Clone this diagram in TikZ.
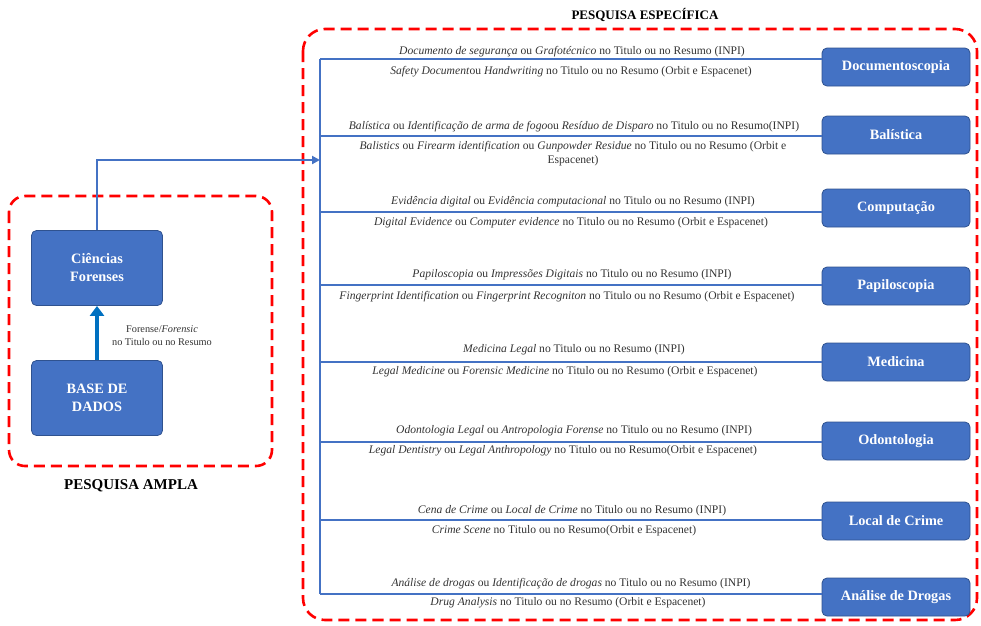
\documentclass[tikz,border=0pt]{standalone}
\usepackage{fontspec}
\setmainfont{Liberation Serif}
\usetikzlibrary{arrows.meta}
\definecolor{bfill}{HTML}{4472C4}
\definecolor{bdraw}{HTML}{2F528F}
\definecolor{lblue}{HTML}{4472C4}
\definecolor{ablue}{HTML}{0070C0}
\definecolor{dred}{HTML}{FF0000}
\definecolor{tgray}{HTML}{333333}
\tikzset{
  catbox/.style={draw=bdraw, fill=bfill, rounded corners=5pt, line width=0.8pt,
    minimum width=148pt, minimum height=38pt, text=white, font=\fontsize{14.3}{16}\selectfont\bfseries, align=center, inner sep=2pt},
  bigbox/.style={catbox, minimum width=131pt, minimum height=75pt, font=\fontsize{14.3}{18}\selectfont\bfseries},
  redbox/.style={draw=dred, line width=2.6pt, dash pattern=on 11pt off 6pt, rounded corners=16pt},
  link/.style={draw=lblue, line width=2.4pt},
  qtext/.style={text=tgray, font=\fontsize{11.6}{14}\selectfont, inner sep=0pt, align=center},
  ttl/.style={font=\fontsize{13}{15}\selectfont\bfseries, inner sep=0pt}
}
\begin{document}
\begin{tikzpicture}[x=1pt,y=-1pt]
\useasboundingbox (0,0) rectangle (981,625);
% dashed containers
\draw[redbox] (9,196) rectangle (272,466);
\draw[redbox, rounded corners=22pt] (303,29) rectangle (977,620);
\node[ttl, font=\fontsize{15}{17}\selectfont\bfseries] (tA) at (131,486) {PESQUISA AMPLA};
\node[ttl] (tE) at (645,15) {PESQUISA ESPECÍFICA};
% left boxes
\node[bigbox] (cf) at (97,268) {Ciências\\Forenses};
\node[bigbox] (bd) at (97,398) {BASE DE\\DADOS};
\draw[draw=ablue, line width=4pt, -{Triangle[length=10pt,width=14pt]}] (bd.north) -- (cf.south);
\node[qtext, font=\fontsize{10.3}{13}\selectfont] (fl) at (162,336) {Forense/\textit{Forensic}\\no Titulo ou no Resumo};
% right boxes
\node[catbox] (b1) at (896,67) {Documentoscopia};
\node[catbox] (b2) at (896,135) {Balística};
\node[catbox] (b3) at (896,208) {Computação};
\node[catbox] (b4) at (896,286) {Papiloscopia};
\node[catbox] (b5) at (896,362) {Medicina};
\node[catbox] (b6) at (896,441) {Odontologia};
\node[catbox] (b7) at (896,521) {Local de Crime};
\node[catbox] (b8) at (896,597) {Análise de Drogas};
% trunk
\coordinate (t1) at (320,59);
\coordinate (t2) at (320,136);
\coordinate (t3) at (320,212);
\coordinate (t4) at (320,285);
\coordinate (t5) at (320,362);
\coordinate (t6) at (320,442);
\coordinate (t7) at (320,520);
\coordinate (t8) at (320,594);
\coordinate (ent) at (320,160);
\coordinate (bend) at (97,160);
\draw[link] (t1) -- (t8);
\draw[link] (t1) -- (t1 -| b1.west);
\draw[link] (t2) -- (t2 -| b2.west);
\draw[link] (t3) -- (t3 -| b3.west);
\draw[link] (t4) -- (t4 -| b4.west);
\draw[link] (t5) -- (t5 -| b5.west);
\draw[link] (t6) -- (t6 -| b6.west);
\draw[link] (t7) -- (t7 -| b7.west);
\draw[link] (t8) -- (t8 -| b8.west);
\draw[link, line width=2.2pt, -{Triangle[length=8pt,width=8pt]}] (cf.north) -- (bend) -- (ent);
% query texts
\node[qtext] (q1a) at (572,52) {\textit{Documento de segurança} ou \textit{Grafotécnico} no Titulo ou no Resumo (INPI)};
\node[qtext] (q1b) at (571,72) {\textit{Safety Document}ou \textit{Handwriting} no Titulo ou no Resumo (Orbit e Espacenet)};
\node[qtext] (q2a) at (574,127) {\textit{Balística} ou \textit{Identificação de arma de fogo}ou \textit{Resíduo de Disparo} no Titulo ou no Resumo(INPI)};
\node[qtext] (q2b) at (573,154) {\textit{Balistics} ou \textit{Firearm identification} ou \textit{Gunpowder Residue} no Titulo ou no Resumo (Orbit e\\Espacenet)};
\node[qtext] (q3a) at (573,202) {\textit{Evidência digital} ou \textit{Evidência computacional} no Titulo ou no Resumo (INPI)};
\node[qtext] (q3b) at (571,223) {\textit{Digital Evidence} ou \textit{Computer evidence} no Titulo ou no Resumo (Orbit e Espacenet)};
\node[qtext] (q4a) at (572,275) {\textit{Papiloscopia} ou \textit{Impressões Digitais} no Titulo ou no Resumo (INPI)};
\node[qtext] (q4b) at (567,297) {\textit{Fingerprint Identification} ou \textit{Fingerprint Recogniton} no Titulo ou no Resumo (Orbit e Espacenet)};
\node[qtext] (q5a) at (574,350) {\textit{Medicina Legal} no Titulo ou no Resumo (INPI)};
\node[qtext] (q5b) at (565,372) {\textit{Legal Medicine} ou \textit{Forensic Medicine} no Titulo ou no Resumo (Orbit e Espacenet)};
\node[qtext] (q6a) at (574,431) {\textit{Odontologia Legal} ou \textit{Antropologia Forense} no Titulo ou no Resumo (INPI)};
\node[qtext] (q6b) at (563,451) {\textit{Legal Dentistry} ou \textit{Legal Anthropology} no Titulo ou no Resumo(Orbit e Espacenet)};
\node[qtext] (q7a) at (572,511) {\textit{Cena de Crime} ou \textit{Local de Crime} no Titulo ou no Resumo (INPI)};
\node[qtext] (q7b) at (564,531) {\textit{Crime Scene} no Titulo ou no Resumo(Orbit e Espacenet)};
\node[qtext] (q8a) at (571,584) {\textit{Análise de drogas} ou \textit{Identificação de drogas} no Titulo ou no Resumo (INPI)};
\node[qtext] (q8b) at (568,603) {\textit{Drug Analysis} no Titulo ou no Resumo (Orbit e Espacenet)};
\end{tikzpicture}
\end{document}
